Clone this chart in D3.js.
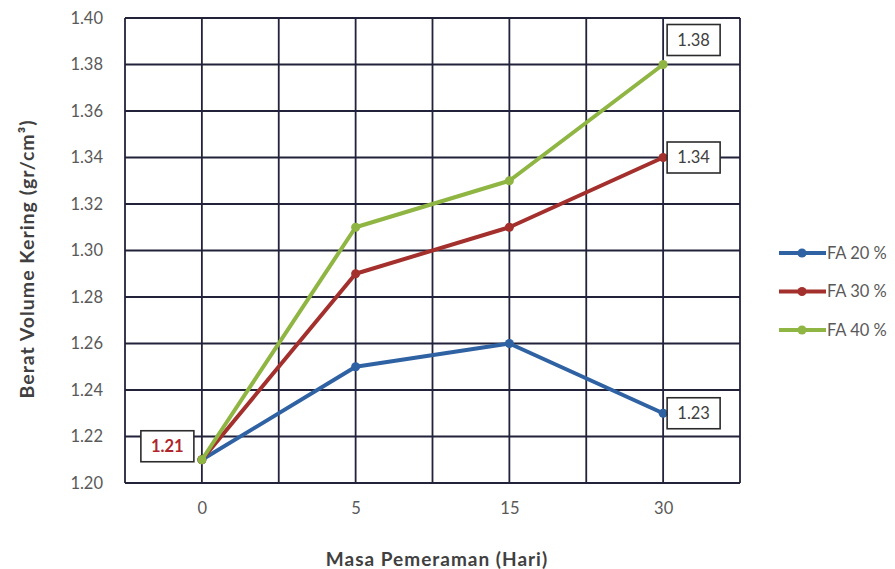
<!DOCTYPE html>
<html>
<head>
<meta charset="utf-8">
<script src="https://cdn.jsdelivr.net/npm/d3@7"></script>
<style>
  body { margin: 0; background: #fff; }
  svg { display: block; font-family: Lato, "Open Sans", sans-serif; }
</style>
</head>
<body>
<svg id="chart" width="895" height="569"></svg>
<script>
// chart data
const days = ["0", "5", "15", "30"];
const seriesNames = ["FA 20 %", "FA 30 %", "FA 40 %"];
const fa20 = [1.21, 1.25, 1.26, 1.23];
const fa30 = [1.21, 1.29, 1.31, 1.34];
const fa40 = [1.21, 1.31, 1.33, 1.38];
const yTicks = [1.20, 1.22, 1.24, 1.26, 1.28, 1.30, 1.32, 1.34, 1.36, 1.38, 1.40];
const colors = ["#2f62a3", "#a3302d", "#8fb543"];

// point labels: [series index, category index, side]
const pointLabels = [
    [0, 0, "left"],
    [0, 3, "right"],
    [1, 3, "right"],
    [2, 3, "right"]
];

const series = [fa20, fa30, fa40].map((vals, i) => ({ name: seriesNames[i], values: vals, color: colors[i] }));

const margin = { top: 18, left: 125, right: 155, bottom: 86 };
const width = 895, height = 569;
const svg = d3.select("#chart");

const x = d3.scalePoint().domain(days).range([margin.left, width - margin.right]).padding(0.5);
const y = d3.scaleLinear().domain([1.20, 1.40]).range([height - margin.bottom, margin.top]);

const gridColor = "#22223a";
const step = x.step();

// vertical grid lines: at each category and halfway between
const xGrid = [];
days.forEach(d => { xGrid.push(x(d) - step / 2, x(d)); });
xGrid.push(x(days[days.length - 1]) + step / 2);

const grid = svg.append("g");
grid.selectAll("line.h")
    .data(yTicks)
    .join("line")
    .attr("x1", margin.left)
    .attr("x2", width - margin.right)
    .attr("y1", d => y(d))
    .attr("y2", d => y(d))
    .attr("stroke", gridColor)
    .attr("stroke-width", 1.8);

grid.selectAll("line.v")
    .data(xGrid)
    .join("line")
    .attr("x1", d => d)
    .attr("x2", d => d)
    .attr("y1", y(1.20))
    .attr("y2", y(1.40))
    .attr("stroke", gridColor)
    .attr("stroke-width", 1.8);

// axes (text only)
const yAxis = svg.append("g")
    .attr("transform", `translate(${margin.left},0)`)
    .call(d3.axisLeft(y).tickValues(yTicks).tickFormat(d3.format(".2f")).tickSize(0).tickPadding(22));
yAxis.select(".domain").remove();
yAxis.selectAll("text").attr("fill", "#595959").style("font-size", "16.5px").style("font-family", "Lato, sans-serif");

const xAxis = svg.append("g")
    .attr("transform", `translate(0,${y(1.20)})`)
    .call(d3.axisBottom(x).tickSize(0).tickPadding(19));
xAxis.select(".domain").remove();
xAxis.selectAll("text").attr("fill", "#595959").style("font-size", "16.5px").style("font-family", "Lato, sans-serif");

// lines
const line = d3.line()
    .x((d, i) => x(days[i]))
    .y(d => y(d));

const lines = svg.append("g");
series.forEach(s => {
    lines.append("path")
        .datum(s.values)
        .attr("fill", "none")
        .attr("stroke", s.color)
        .attr("stroke-width", 4)
        .attr("stroke-linejoin", "round")
        .attr("d", line);
    lines.selectAll(null)
        .data(s.values)
        .join("circle")
        .attr("cx", (d, i) => x(days[i]))
        .attr("cy", d => y(d))
        .attr("r", 4.5)
        .attr("fill", s.color);
});

// data labels
const labelG = svg.append("g");
pointLabels.forEach(([si, ci, side]) => {
    const v = series[si].values[ci];
    const px = x(days[ci]);
    const py = y(v);
    const w = 53, h = 31;
    const bx = side === "left" ? px - 61 : px + 4;
    let by = py - h / 2;
    if (si === 2 && ci === 3) by = py - 40;
    if (si === 0 && ci === 0) by = py - 29;
    const isFirst = side === "left";
    labelG.append("rect")
        .attr("x", bx).attr("y", by)
        .attr("width", w).attr("height", h)
        .attr("fill", "#fff")
        .attr("stroke", "#2b2b2b")
        .attr("stroke-width", 1.6);
    labelG.append("text")
        .attr("x", bx + w / 2).attr("y", by + h / 2)
        .attr("dy", "0.35em")
        .attr("text-anchor", "middle")
        .attr("fill", isFirst ? "#b0242b" : "#404040")
        .attr("font-weight", isFirst ? "bold" : "normal")
        .style("font-size", "16.5px")
        .text(d3.format(".2f")(v));
});

// legend
const legend = svg.append("g").attr("transform", "translate(779,253)");
series.forEach((s, i) => {
    const g = legend.append("g").attr("transform", `translate(0,${i * 38.5})`);
    g.append("line").attr("x1", 0).attr("x2", 47).attr("y1", 0).attr("y2", 0)
        .attr("stroke", s.color).attr("stroke-width", 4);
    g.append("circle").attr("cx", 23).attr("cy", 0).attr("r", 4.5).attr("fill", s.color);
    g.append("text").attr("x", 48).attr("y", 0).attr("dy", "0.35em")
        .attr("fill", "#595959").style("font-size", "16.5px").text(s.name);
});

// axis titles
svg.append("text")
    .attr("x", 437)
    .attr("y", 559)
    .attr("dy", "0.35em")
    .attr("text-anchor", "middle")
    .attr("fill", "#404040")
    .attr("font-weight", "bold")
    .style("font-size", "19px")
    .style("letter-spacing", "1px")
    .text("Masa Pemeraman (Hari)");

svg.append("text")
    .attr("transform", "translate(27,259) rotate(-90)")
    .attr("dy", "0.35em")
    .attr("text-anchor", "middle")
    .attr("fill", "#404040")
    .attr("font-weight", "bold")
    .style("font-size", "19.5px")
    .style("letter-spacing", "1px")
    .text("Berat Volume Kering (gr/cm³)");
</script>
</body>
</html>
